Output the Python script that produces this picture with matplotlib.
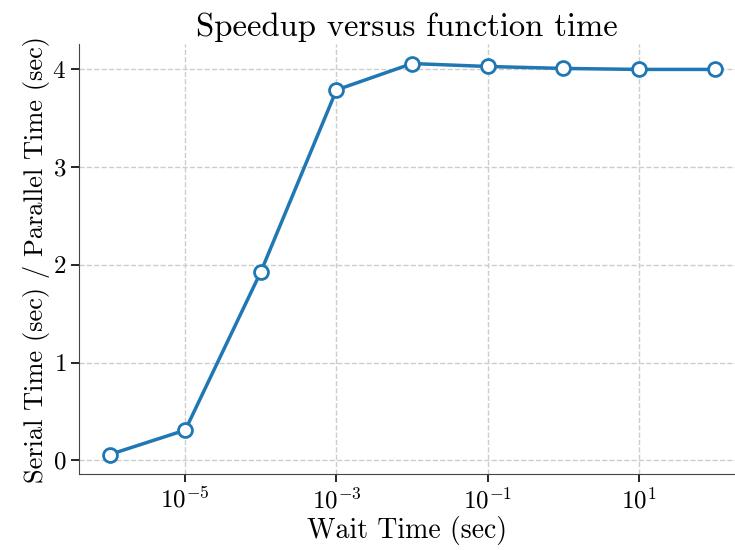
import numpy as np
import matplotlib
matplotlib.use("Agg")
import matplotlib.pyplot as plt
from matplotlib.ticker import FixedLocator, NullLocator, LogFormatterSciNotation

plt.rcParams["font.family"] = "serif"
plt.rcParams["font.serif"] = ["cmr10"]
plt.rcParams["mathtext.fontset"] = "cm"
plt.rcParams["axes.formatter.use_mathtext"] = True

wait_time = [1e-6, 1e-5, 1e-4, 1e-3, 1e-2, 1e-1, 1e0, 1e1, 1e2]
speedup   = [0.06, 0.31, 1.93, 3.79, 4.06, 4.03, 4.01, 4.00, 4.00]
x_ticks   = [1e-5, 1e-3, 1e-1, 1e1]
y_ticks   = [0, 1, 2, 3, 4]

fig, ax = plt.subplots(figsize=(7.35, 5.5), dpi=100)
ax.plot(wait_time, speedup, "-o", color="#1f77b4", linewidth=2.5,
        markersize=10, markerfacecolor="white", markeredgewidth=2, zorder=3)
ax.set_xscale("log")
ax.xaxis.set_major_locator(FixedLocator(x_ticks))
ax.xaxis.set_major_formatter(LogFormatterSciNotation())
ax.xaxis.set_minor_locator(NullLocator())
ax.set_xlim(10 ** -6.4, 10 ** 2.27)
ax.set_ylim(-0.14, 4.26)
ax.set_yticks(y_ticks)

ax.grid(True, linestyle="--", color="#cccccc", linewidth=1)
ax.set_axisbelow(True)
for s in ["top", "right"]:
    ax.spines[s].set_visible(False)
for s in ["left", "bottom"]:
    ax.spines[s].set_color("#444444")

ax.tick_params(labelsize=18, length=6, width=1.2)
ax.set_xlabel("Wait Time (sec)", fontsize=20, labelpad=2)
ax.set_ylabel("Serial Time (sec) / Parallel Time (sec)", fontsize=19, labelpad=2)
ax.set_title("Speedup versus function time", fontsize=23.5)

fig.subplots_adjust(left=0.108, right=1.0, top=0.92, bottom=0.138)
fig.savefig("out.png", dpi=100)
